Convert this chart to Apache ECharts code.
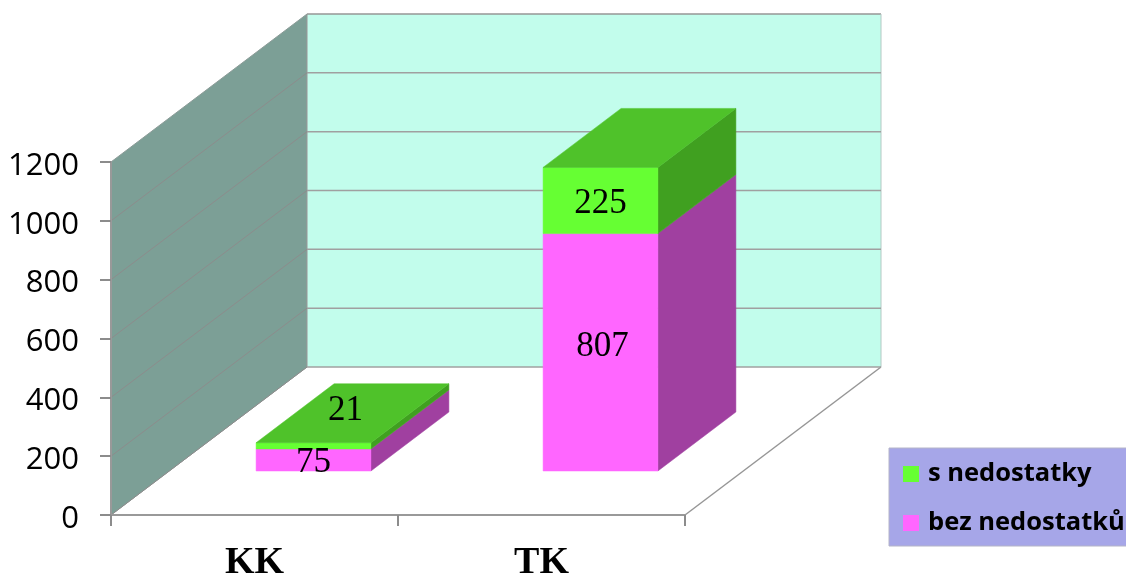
<!DOCTYPE html>
<html>
<head>
<meta charset="utf-8">
<style>html,body{margin:0;padding:0;background:#fff}#c{width:1126px;height:574px}</style>
<script src="https://cdn.jsdelivr.net/npm/echarts@6/dist/echarts.min.js"></script>
</head>
<body>
<div id="c"></div>
<script>
const categories = ['KK', 'TK'];
const bezNedostatku = [75, 807];
const sNedostatky = [21, 225];
const yTicks = [0, 200, 400, 600, 800, 1000, 1200];
const yMax = 1200;

const WALL = [196, -148], BAR_FRONT = [59, -44], BAR_DEPTH = [78, -59], BAR_RATIO = 0.4;
const GREY = '#969696';

function poly(points, fill, stroke, lw) {
  return {type: 'polygon', shape: {points}, style: {fill, stroke: stroke || fill, lineWidth: lw === undefined ? 0.5 : lw}, silent: true};
}
function line(a, b, stroke, lw) {
  return {type: 'line', shape: {x1: a[0], y1: a[1], x2: b[0], y2: b[1]}, style: {stroke, lineWidth: lw}, silent: true};
}
const off = (p, d) => [p[0] + d[0], p[1] + d[1]];

function renderWalls(params, api) {
  const bw = api.size([1, 0])[0];
  const c0 = api.coord([0, 0]), c1 = api.coord([1, 0]);
  const top = api.coord([0, yMax])[1];
  const bl = [c0[0] - bw / 2, c0[1]], br = [c1[0] + bw / 2, c1[1]];
  const tl = [bl[0], top], tr = [br[0], top];
  const children = [
    poly([bl, tl, off(tl, WALL), off(bl, WALL)], '#7c9f96', '#8c9c98', 1),
    poly([off(bl, WALL), off(tl, WALL), off(tr, WALL), off(br, WALL)], '#c2fdec', '#c2fdec', 0),
    line(off(tl, WALL), off(tr, WALL), GREY, 1.5),
    line(off(tr, WALL), off(br, WALL), '#b4c8c4', 1),
    line(off(bl, WALL), off(tl, WALL), GREY, 1),
    line(br, off(br, WALL), GREY, 1.5)
  ];
  return {type: 'group', children};
}

function renderGrid(params, api) {
  const bw = api.size([1, 0])[0];
  const v = api.value(0);
  const l = api.coord([0, v]); l[0] -= bw / 2;
  const r = api.coord([1, v]); r[0] += bw / 2;
  return {type: 'group', children: [
    line(l, off(l, WALL), '#8c8c8c', 1),
    line(off(l, WALL), off(r, WALL), '#a0a0a0', 1.5)
  ]};
}

function barRenderer(front, side, topC, showTop) {
  return function (params, api) {
    const cat = api.value(0), base = api.value(1), val = api.value(2);
    const bw = api.size([1, 0])[0] * BAR_RATIO;
    const p0 = off(api.coord([cat, base]), BAR_FRONT);
    const p1 = off(api.coord([cat, base + val]), BAR_FRONT);
    const a = [p0[0] - bw / 2, p0[1]], b = [p0[0] + bw / 2, p0[1]];
    const c = [p1[0] + bw / 2, p1[1]], d = [p1[0] - bw / 2, p1[1]];
    const children = [
      poly([b, c, off(c, BAR_DEPTH), off(b, BAR_DEPTH)], side),
      poly([a, b, c, d], front)
    ];
    if (showTop) children.push(poly([d, c, off(c, BAR_DEPTH), off(d, BAR_DEPTH)], topC));
    return {type: 'group', children};
  };
}

// label sits on the front face, or on the top face when the front is too thin
function renderLabel(params, api) {
  const cat = api.value(0), base = api.value(1), val = api.value(2);
  const p0 = off(api.coord([cat, base]), BAR_FRONT);
  const p1 = off(api.coord([cat, base + val]), BAR_FRONT);
  const thin = (p0[1] - p1[1]) < 12;
  const tall = val > 500;
  return {type: 'text', silent: true, style: {
    x: thin ? p1[0] + BAR_DEPTH[0] / 2 - 7 : p0[0] + (tall ? 2 : 0),
    y: thin ? p1[1] + BAR_DEPTH[1] / 2 - 2 : (p0[1] + p1[1]) / 2 + (tall ? -5 : 3),
    text: String(val), fill: '#000', align: 'center', verticalAlign: 'middle',
    font: '35px "Liberation Serif"'
  }};
}

const chart = echarts.init(document.getElementById('c'), null, {renderer: 'canvas'});
const bezData = categories.map((c, i) => [i, 0, bezNedostatku[i]]);
const sData = categories.map((c, i) => [i, bezNedostatku[i], sNedostatky[i]]);
chart.setOption({
  animation: false,
  backgroundColor: '#fff',
  grid: {left: 111, top: 162, width: 574, height: 353, containLabel: false, outerBoundsMode: 'none'},
  xAxis: {
    type: 'category', data: categories, z: 5,
    axisLine: {lineStyle: {color: '#999', width: 2}},
    axisTick: {show: true, alignWithLabel: false, length: 11, lineStyle: {color: '#8c8c8c', width: 2}},
    axisLabel: {interval: 0, margin: 29, color: '#000', fontFamily: 'Liberation Serif', fontWeight: 'bold', fontSize: 38}
  },
  yAxis: {
    type: 'value', min: 0, max: yMax, interval: 200, z: 5,
    axisLine: {show: true, lineStyle: {color: '#999', width: 2}},
    axisTick: {show: true, length: 11, lineStyle: {color: '#8c8c8c', width: 2}},
    axisLabel: {margin: 32, formatter: v => '{a|' + v + '}',
      rich: {a: {color: '#000', fontFamily: 'Open Sans', fontSize: 31, padding: [8, 0, 0, 0]}}},
    splitLine: {show: false}
  },
  legend: {
    orient: 'vertical', left: 889, top: 448, icon: 'rect', itemWidth: 16, itemHeight: 16, itemGap: 23,
    padding: [13, 2, 10, 14], backgroundColor: '#a6a6e8', borderColor: '#b4b4c8', borderWidth: 1, borderRadius: 0,
    data: ['s nedostatky', 'bez nedostatků'],
    textStyle: {color: '#000', fontFamily: 'Open Sans', fontWeight: 'bold', fontSize: 25.5, padding: [0, 0, 0, 4]}
  },
  series: [
    {type: 'custom', name: 'walls', z: 1, silent: true, renderItem: renderWalls, data: [[0]]},
    {type: 'custom', name: 'grid', z: 2, silent: true, renderItem: renderGrid, data: yTicks.slice(1, -1).map(v => [v]).concat([[0]])},
    {type: 'custom', name: 'bez nedostatků', z: 3, silent: true, itemStyle: {color: '#ff66ff'},
      renderItem: barRenderer('#ff66ff', '#a040a0', '#a040a0', false), data: bezData},
    {type: 'custom', name: 's nedostatky', z: 4, silent: true, itemStyle: {color: '#66ff33'},
      renderItem: barRenderer('#66ff33', '#40a020', '#4fc22a', true), data: sData},
    {type: 'custom', name: 'labels', z: 6, silent: true, renderItem: renderLabel, data: bezData.concat(sData)}
  ]
});
</script>
</body>
</html>
